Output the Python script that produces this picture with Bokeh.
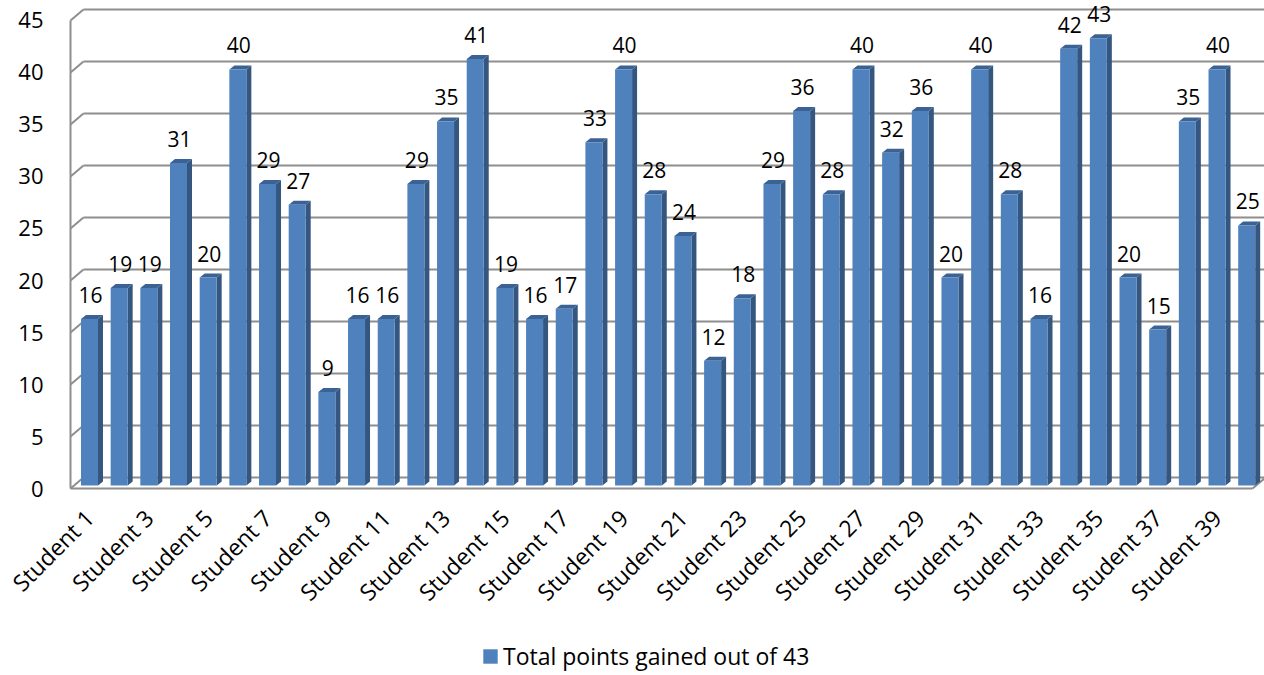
import math
from bokeh.plotting import figure
from bokeh.layouts import column
from bokeh.models import FixedTicker, Legend, LegendItem, Range1d
from bokeh.embed import file_html
from bokeh.resources import INLINE
from bokeh.core.properties import value

# ---------------- data ----------------
students = [f"Student {i}" for i in range(1, 41)]
points = [16, 19, 19, 31, 20, 40, 29, 27, 9, 16,
          16, 29, 35, 41, 19, 16, 17, 33, 40, 28,
          24, 12, 18, 29, 36, 28, 40, 32, 36, 20,
          40, 28, 16, 42, 43, 20, 15, 35, 40, 25]
y_ticks = [0, 5, 10, 15, 20, 25, 30, 35, 40, 45]
series_name = "Total points gained out of 43"

# ---------------- geometry (pixels -> data units) ----------------
PX_X = 29.67          # px per category
PX_Y = 10.4           # px per point
FONT = "Open Sans"

idx = list(range(len(points)))
w = 17 / PX_X                  # bar front width
sdx, sdy = 5 / PX_X, 4 / PX_Y  # bar depth
bar_dy = 3 / PX_Y              # bars sit slightly behind the front edge
xw = -0.64                     # front wall x
bdx, bdy = 13 / PX_X, 11 / PX_Y  # back wall offset

p = figure(width=1264, height=635, output_backend="svg", toolbar_location=None,
           x_range=Range1d(-0.977, 39.60), y_range=Range1d(-0.67, 46.92),
           min_border_left=60, min_border_right=0, min_border_top=0,
           min_border_bottom=140, background_fill_color="white",
           border_fill_color="white")
p.outline_line_color = None
p.grid.visible = False

grid_col = "#8E8E8E"
x_end = 40.5
n = len(y_ticks)
p.segment(x0=[xw] * n, y0=y_ticks, x1=[xw + bdx] * n, y1=[t + bdy for t in y_ticks],
          line_color=grid_col, line_width=2)
p.segment(x0=[xw + bdx] * n, y0=[t + bdy for t in y_ticks],
          x1=[x_end] * n, y1=[t + bdy for t in y_ticks],
          line_color=grid_col, line_width=2)
p.segment(x0=[xw], y0=[0], x1=[xw], y1=[y_ticks[-1]], line_color=grid_col, line_width=2)
x_floor_end = (1252 - 89) / PX_X
p.segment(x0=[xw], y0=[0], x1=[x_floor_end], y1=[0], line_color=grid_col, line_width=2)
p.segment(x0=[x_floor_end], y0=[0], x1=[x_floor_end + bdx], y1=[bdy],
          line_color=grid_col, line_width=2)

# bars: side, top, front
tops = [v + bar_dy for v in points]
side_xs = [[i + w / 2, i + w / 2 + sdx, i + w / 2 + sdx, i + w / 2] for i in idx]
side_ys = [[bar_dy, bar_dy + sdy, t + sdy, t] for t in tops]
top_xs = [[i - w / 2, i - w / 2 + sdx, i + w / 2 + sdx, i + w / 2] for i in idx]
top_ys = [[t, t + sdy, t + sdy, t] for t in tops]
p.patches(side_xs, side_ys, fill_color="#34567F", line_color=None)
p.patches(top_xs, top_ys, fill_color="#3B6295", line_color=None)
p.quad(left=[i - w / 2 for i in idx], right=[i + w / 2 for i in idx],
       bottom=[bar_dy] * len(points), top=tops, fill_color="#4F81BD", line_color=None)

# data labels
p.text(x=idx, y=tops, text=[str(v) for v in points], x_offset=1, y_offset=-24,
       text_align="center", text_baseline="middle", text_font=value(FONT),
       text_font_size="21px", text_color="#000000")

# axes
p.yaxis.ticker = FixedTicker(ticks=y_ticks)
p.yaxis.axis_line_color = None
p.yaxis.major_tick_line_color = None
p.yaxis.major_tick_out = 0
p.yaxis.minor_tick_line_color = None
p.yaxis.major_label_standoff = 17
p.yaxis.major_label_text_font = FONT
p.yaxis.major_label_text_font_size = "22px"
p.yaxis.major_label_text_color = "#000000"

xt = idx[::2]
p.xaxis.ticker = FixedTicker(ticks=xt)
p.xaxis.major_label_overrides = {i: students[i] for i in xt}
p.xaxis.major_label_orientation = math.pi / 4
p.xaxis.axis_line_color = None
p.xaxis.major_tick_line_color = None
p.xaxis.major_tick_out = 0
p.xaxis.minor_tick_line_color = None
p.xaxis.major_label_standoff = 18
p.xaxis.major_label_text_font = FONT
p.xaxis.major_label_text_font_size = "23px"
p.xaxis.major_label_text_color = "#000000"

# legend strip
lp = figure(width=1264, height=40, output_backend="svg", toolbar_location=None,
            x_range=Range1d(0, 1264), y_range=Range1d(0, 40),
            x_axis_type=None, y_axis_type=None,
            min_border=0, background_fill_color="white", border_fill_color="white")
lp.outline_line_color = None
lp.grid.visible = False
swatch = lp.quad(left=[-20], right=[-10], bottom=[-20], top=[-10],
                 fill_color="#4F81BD", line_color=None)
legend = Legend(items=[LegendItem(label=series_name, renderers=[swatch])],
                location=(421, 3), orientation="horizontal", padding=0, margin=0,
                glyph_width=18, glyph_height=18, label_height=20, label_standoff=4,
                label_text_font=FONT, label_text_font_size="23px",
                label_text_color="#000000", border_line_color=None,
                background_fill_alpha=0)
lp.add_layout(legend)

layout = column(p, lp, spacing=0)
open("out.html", "w").write(file_html(layout, INLINE))
